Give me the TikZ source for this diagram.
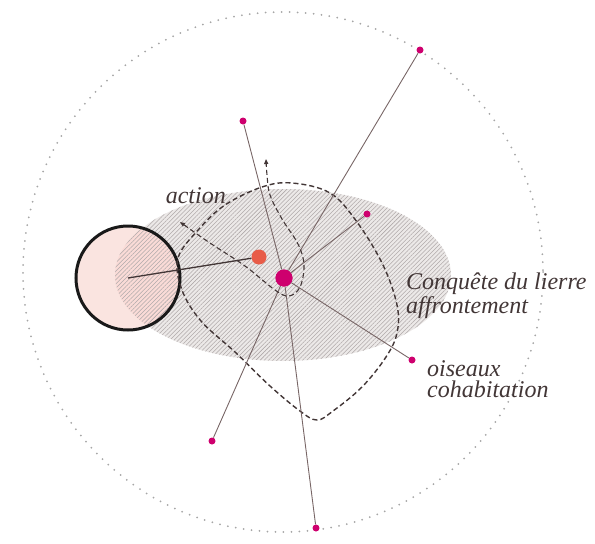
\documentclass[tikz,border=0pt]{standalone}
\usepackage{fontspec}
\setmainfont{Liberation Serif}
\usepackage{tikz}
\usetikzlibrary{arrows.meta,patterns.meta}

\definecolor{pinmag}{RGB}{206,0,110}
\definecolor{pinorange}{RGB}{232,92,72}
\definecolor{skin}{RGB}{250,228,224}
\definecolor{haze}{RGB}{236,233,232}
\definecolor{hatch}{RGB}{176,170,170}
\definecolor{ink}{RGB}{66,54,54}
\definecolor{raycol}{RGB}{120,102,102}

\tikzset{
  pin/.style={circle, fill=pinmag, inner sep=0pt, minimum size=7pt},
  ray/.style={raycol, line width=0.9pt},
  word/.style={text=ink, font=\fontsize{24}{21}\selectfont\itshape, inner sep=0pt, align=left},
  move/.style={ink, line width=1.4pt, dash pattern=on 5pt off 3pt},
}

\begin{document}
\begin{tikzpicture}[x=1pt,y=-1pt]
  \useasboundingbox (0,0) rectangle (595,544);

  % outer horizon
  \draw[gray!70, line width=2pt, line cap=round, dash pattern=on 0pt off 8pt] (283,272) circle (260);

  % hatched zone
  \fill[haze] (283,275) ellipse (168 and 86);
  \fill[skin] (128,278) circle (51);
  \begin{scope}
    \clip (283,275) ellipse (168 and 86);
    \fill[pinorange!22] (128,278) circle (51);
    \fill[pattern={Lines[angle=45,distance=3pt,line width=0.55pt]}, pattern color=hatch] (283,275) ellipse (168 and 86);
  \end{scope}
  \draw[line width=3pt, black!90] (128,278) circle (52);

  % dashed territory
  \draw[move] plot[smooth cycle, tension=0.6] coordinates {
    (225,205) (262,187) (292,183) (330,193) (357,222) (383,265) (397,305)
    (397,333) (386,357) (362,387) (333,411) (317,420) (300,411) (270,386)
    (235,352) (201,321) (182,290) (178,258) (199,229)};

  % nodes
  \node[pin, minimum size=17pt] (centre) at (284,278) {};
  \node[circle, fill=pinorange, inner sep=0pt, minimum size=15pt] (graine) at (259,257) {};
  \coordinate (mur) at (128,278);
  \node[pin] (haut) at (420,50) {};
  \node[pin] (tige) at (243,121) {};
  \node[pin] (lierre) at (367,214) {};
  \node[pin] (oiseau) at (412,360) {};
  \node[pin] (gauche) at (212,441) {};
  \node[pin] (bas) at (316,528) {};

  % rays
  \foreach \p in {haut,tige,lierre,oiseau,gauche,bas}
    \draw[ray] (centre) -- (\p);
  \draw[ray, line width=1.3pt, ink] (mur) -- (graine);

  % action path
  \draw[move, line width=1.1pt, {Triangle[length=5pt,width=4pt]}-{Triangle[length=5pt,width=4pt]}]
    plot[smooth, tension=0.6] coordinates {
    (180,222) (210,243) (245,266) (275,290) (289,296) (300,287) (304,265)
    (298,244) (282,219) (270,195) (267,175) (266,159)};

  \node[pin, minimum size=17pt] at (centre) {};

  % labels
  \node[word, anchor=base east] (action) at (226,203) {action};
  \node[word, anchor=base west] (conquete) at (406,313) {Conquête du lierre\\affrontement};
  \node[word, anchor=base west] (oiseaux) at (427,397) {oiseaux\\cohabitation};
\end{tikzpicture}
\end{document}
